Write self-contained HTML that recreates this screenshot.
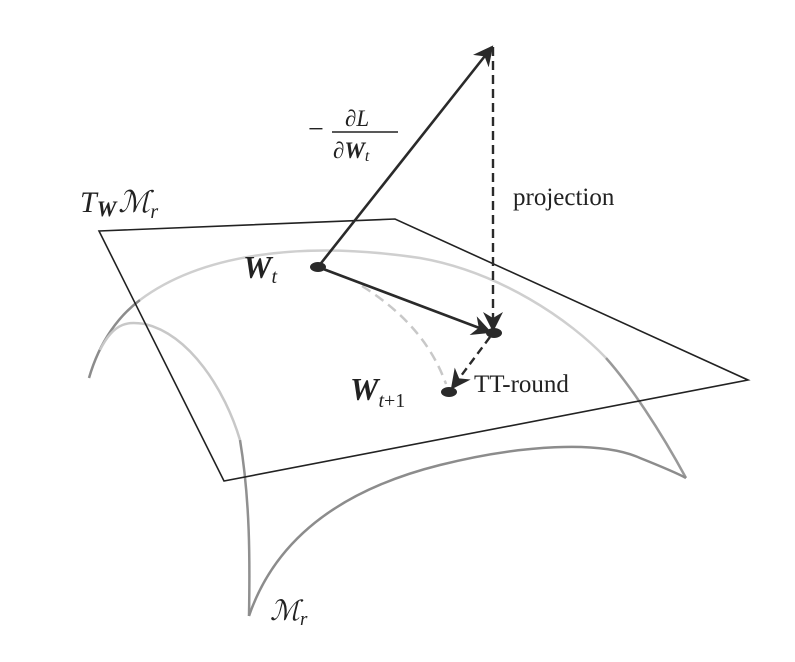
<!DOCTYPE html>
<html><head><meta charset="utf-8">
<style>
html,body{margin:0;padding:0;background:#fff;}
svg{display:block;}
text{font-family:"Liberation Serif","DejaVu Serif",serif;fill:#222;}
</style></head>
<body>
<svg width="795" height="662" viewBox="0 0 795 662">
<defs>
<marker id="ahb" viewBox="0 0 10 10" refX="9" refY="5" markerWidth="20" markerHeight="20" orient="auto" markerUnits="userSpaceOnUse">
<path d="M0,0 L10,5 L0,10 L3,5 z" fill="#2a2a2a"/>
</marker>
</defs>

<g fill="none" stroke-width="2.5">
  <path d="M89,378 C100,340 120,315 140,300" stroke="#8c8c8c"/>
  <path d="M140,300 C200,255 300,240 420,258 C500,272 570,320 606,358" stroke="#cfcfcf"/>
  <path d="M606,358 C630,385 660,430 686,478" stroke="#999"/>
  <path d="M100,350 C115,320 130,322 145,324 C190,335 225,390 240,440" stroke="#c8c8c8"/>
  <path d="M240,440 C250,500 250,560 249,616" stroke="#909090"/>
  <path d="M249,616 C275,540 340,490 440,465 C520,445 600,440 640,458 C660,466 675,472 686,478" stroke="#8c8c8c"/>
</g>

<polygon points="99,231 395,219 748,380 224,481" fill="none" stroke="#222" stroke-width="1.6"/>

<path d="M362,286 C400,310 430,340 446,384" fill="none" stroke="#c8c8c8" stroke-width="2.5" stroke-dasharray="10,6"/>

<line x1="318" y1="267" x2="492" y2="47" stroke="#2a2a2a" stroke-width="2.6" marker-end="url(#ahb)"/>
<line x1="493" y1="47" x2="493" y2="330" stroke="#2a2a2a" stroke-width="2.4" stroke-dasharray="9,5" marker-end="url(#ahb)"/>
<line x1="318" y1="267" x2="490" y2="332" stroke="#2a2a2a" stroke-width="2.6" marker-end="url(#ahb)"/>
<line x1="490" y1="337" x2="452" y2="388" stroke="#2a2a2a" stroke-width="2.4" stroke-dasharray="8,5" marker-end="url(#ahb)"/>

<ellipse cx="318" cy="267" rx="8" ry="5" fill="#2a2a2a"/>
<ellipse cx="494" cy="333" rx="8" ry="5" fill="#2a2a2a"/>
<ellipse cx="449" cy="392" rx="8" ry="5" fill="#2a2a2a"/>

<text x="80" y="212" font-size="30" font-style="italic">T<tspan font-size="22" font-weight="bold" dy="4">W</tspan><tspan dy="-4" dx="2">ℳ</tspan><tspan font-size="20" dy="6">r</tspan></text>
<text x="270" y="620" font-size="28" font-style="italic">ℳ<tspan font-size="19" dy="5">r</tspan></text>
<text x="243" y="278" font-size="32" font-style="italic" font-weight="bold">W<tspan font-size="20" font-weight="normal" dy="5">t</tspan></text>
<text x="350" y="400" font-size="32" font-style="italic" font-weight="bold">W<tspan font-size="20" font-weight="normal" font-style="normal" dy="7"><tspan font-style="italic">t</tspan>+1</tspan></text>
<g>
  <text x="308" y="138" font-size="28">−</text>
  <text x="345" y="126" font-size="23" font-style="italic">∂L</text>
  <line x1="332" y1="132" x2="398" y2="132" stroke="#222" stroke-width="1.4"/>
  <text x="333" y="158" font-size="23" font-style="italic">∂<tspan font-weight="bold">W</tspan><tspan font-size="16" dy="3">t</tspan></text>
</g>
<text x="513" y="205" font-size="25">projection</text>
<text x="474" y="392" font-size="25">TT-round</text>
</svg>
</body></html>
